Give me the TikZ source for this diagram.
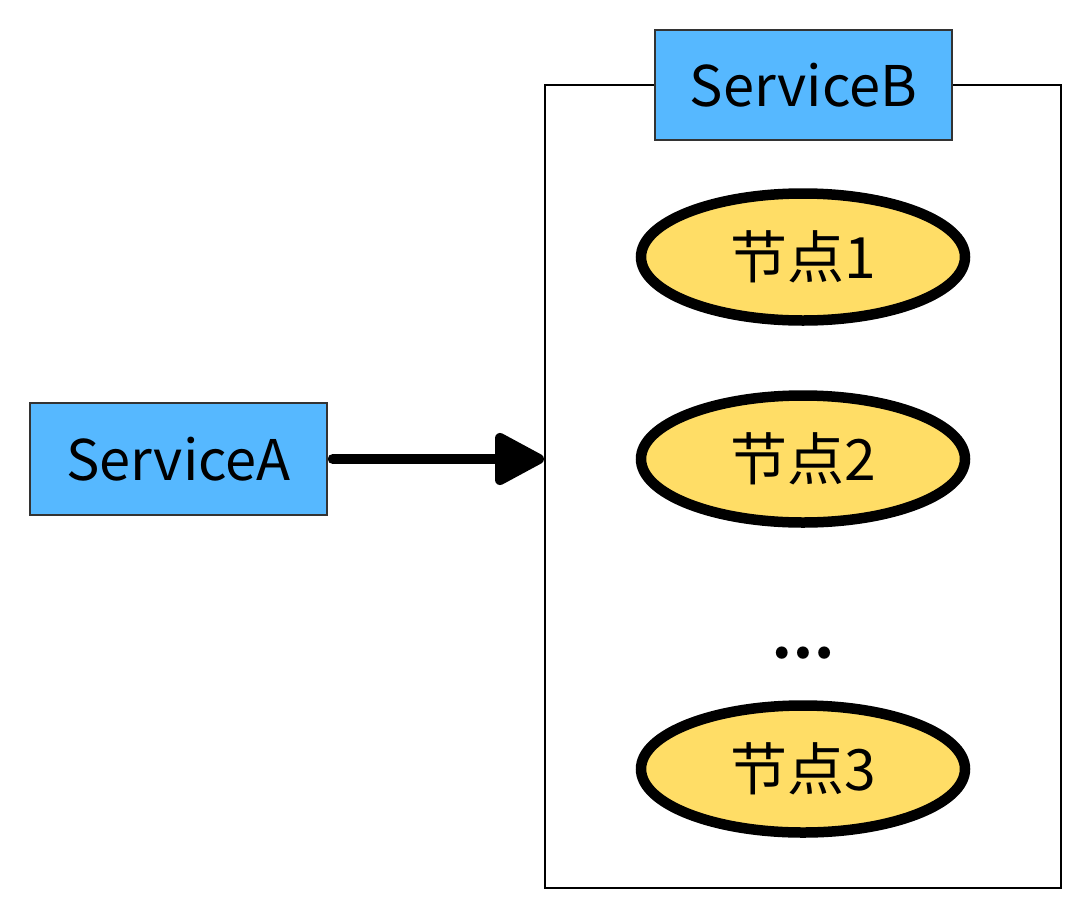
\documentclass[tikz,border=0pt]{standalone}
\usepackage{fontspec}
\setmainfont{Noto Sans CJK SC}
\usetikzlibrary{shapes.geometric,arrows.meta}
\definecolor{svcblue}{HTML}{56B8FF}
\definecolor{nodeyellow}{HTML}{FFDD66}
\begin{document}
\begin{tikzpicture}[
x=1pt,y=-1pt,
service/.style={
  draw=black!80,
  fill=svcblue,
  line width=1.5pt,
  minimum width=297pt,
  minimum height=110pt,
  inner sep=0,
  font=\fontsize{56}{60}\selectfont
  },
cluster/.style={draw,line width=2pt,fill=none,inner sep=0,
  minimum width=516pt,minimum height=803pt
  },
member/.style={
  draw,
  ellipse,
  fill=nodeyellow,
  line width=10.5pt,
  minimum width=324pt,
  minimum height=127pt,
  inner sep=0,
  font=\fontsize{57}{60}\selectfont
  },
>={Triangle[length=55pt,width=56pt,round]}]
\useasboundingbox (0,0) rectangle (1091,918);

\node [cluster] (box) at (803,486.5) {};
\node [service] (svcB) at (803.5,85) {ServiceB};
\node [service, minimum height=112pt] (svcA) at (178.5,459) {ServiceA};

\node [member] (n1) at (803,257) {节点1};
\node [member] (n2) at (803,459) {节点2};
\node [font=\fontsize{56}{60}\selectfont\bfseries] (dots) at (803,653) {…};
\node [member] (n3) at (803,769) {节点3};

\draw[->,line width=10pt,line cap=round,shorten <=5pt] (svcA.east) -- (svcA.east -| box.west);

\end{tikzpicture}
\end{document}
